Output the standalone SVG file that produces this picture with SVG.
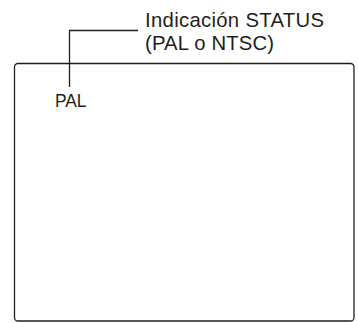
<svg xmlns="http://www.w3.org/2000/svg" width="358" height="323" viewBox="0 0 358 323">
<style>
.t{font-family:"Liberation Sans",Arial,sans-serif;fill:#231f20}
.ln{fill:none;stroke:#231f20;stroke-width:1.3}
</style>
<rect width="358" height="323" fill="#fff"/>
<g id="screen">
<rect x="14.5" y="63.5" width="339.5" height="257.5" rx="3.5" class="ln" stroke-width="1.5"/>
<text class="t" x="55" y="106.5" font-size="18.5" textLength="31.5" lengthAdjust="spacingAndGlyphs">PAL</text>
</g>
<g id="label">
<text class="t" x="145" y="27" font-size="20.3" textLength="179" lengthAdjust="spacing">Indicación STATUS</text>
<text class="t" x="145" y="50" font-size="20.3" textLength="129" lengthAdjust="spacing">(PAL o NTSC)</text>
</g>
<g id="connectors">
<path class="ln" d="M138,30.5 H69.5 V87"/>
</g>
</svg>
